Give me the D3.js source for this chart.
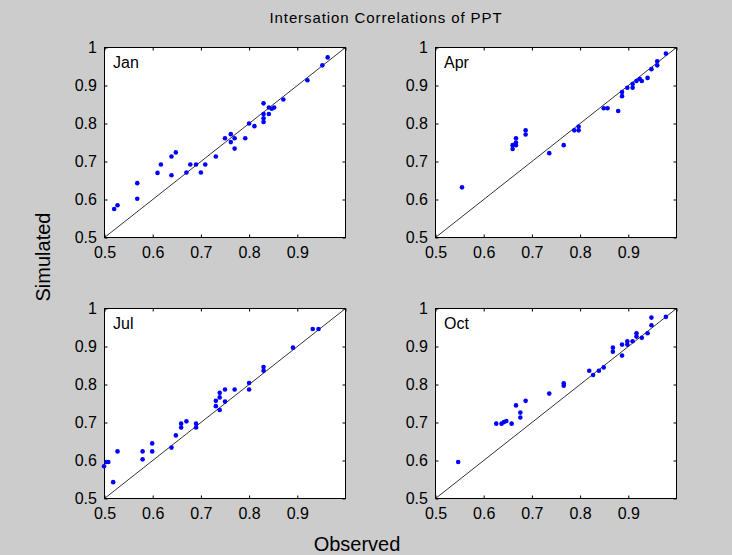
<!DOCTYPE html>
<html>
<head>
<meta charset="utf-8">
<script src="https://cdn.jsdelivr.net/npm/d3@7"></script>
<style>
  body { margin: 0; background: #cccccc; }
  svg { display: block; font-family: "Liberation Sans", Arial, sans-serif; }
</style>
</head>
<body>
<div id="chart"></div>
<script>
// panel names
var months = ["Jan", "Apr", "Jul", "Oct"];

// observed / simulated correlations
var janObs = [0.52, 0.527, 0.568, 0.568, 0.61, 0.617, 0.639, 0.639, 0.648, 0.67, 0.678, 0.69, 0.70, 0.709, 0.731,
              0.75, 0.762, 0.762, 0.77, 0.77, 0.792, 0.80, 0.811, 0.83, 0.83, 0.83, 0.83, 0.841, 0.841, 0.847,
              0.852, 0.871, 0.921, 0.952, 0.963];
var janSim = [0.575, 0.585, 0.643, 0.602, 0.67, 0.692, 0.713, 0.664, 0.724, 0.671, 0.692, 0.692, 0.671, 0.692, 0.713,
              0.761, 0.772, 0.751, 0.761, 0.734, 0.761, 0.80, 0.793, 0.853, 0.825, 0.814, 0.804, 0.842, 0.825, 0.839,
              0.842, 0.863, 0.914, 0.953, 0.974];

var aprObs = [0.555, 0.66, 0.66, 0.667, 0.667, 0.667, 0.687, 0.687, 0.736, 0.766, 0.788, 0.797, 0.797, 0.849, 0.857,
              0.879, 0.887, 0.887, 0.898, 0.909, 0.909, 0.917, 0.924, 0.928, 0.94, 0.948, 0.96, 0.96, 0.978];
var aprSim = [0.632, 0.743, 0.733, 0.761, 0.75, 0.743, 0.782, 0.771, 0.722, 0.743, 0.782, 0.792, 0.782, 0.84, 0.84,
              0.833, 0.883, 0.872, 0.894, 0.904, 0.894, 0.912, 0.917, 0.912, 0.92, 0.943, 0.964, 0.953, 0.984];

var julObs = [0.499, 0.504, 0.508, 0.518, 0.527, 0.579, 0.579, 0.599, 0.599, 0.639, 0.648, 0.659, 0.659, 0.67, 0.69,
              0.69, 0.731, 0.731, 0.739, 0.739, 0.739, 0.75, 0.75, 0.77, 0.80, 0.80, 0.83, 0.83, 0.891, 0.932, 0.944];
var julSim = [0.585, 0.596, 0.596, 0.543, 0.624, 0.624, 0.603, 0.645, 0.624, 0.634, 0.666, 0.697, 0.687, 0.703, 0.697,
              0.687, 0.757, 0.743, 0.778, 0.766, 0.733, 0.787, 0.755, 0.787, 0.804, 0.787, 0.846, 0.836, 0.897, 0.946, 0.946];

var octObs = [0.547, 0.626, 0.637, 0.642, 0.647, 0.658, 0.667, 0.676, 0.676, 0.687, 0.736, 0.766, 0.766, 0.819, 0.827,
              0.839, 0.849, 0.868, 0.868, 0.887, 0.887, 0.898, 0.898, 0.909, 0.917, 0.917, 0.928, 0.94, 0.948, 0.948, 0.978];
var octSim = [0.596, 0.697, 0.697, 0.701, 0.704, 0.697, 0.745, 0.726, 0.713, 0.757, 0.776, 0.803, 0.797, 0.836, 0.825,
              0.836, 0.845, 0.897, 0.886, 0.905, 0.876, 0.914, 0.905, 0.914, 0.935, 0.926, 0.923, 0.935, 0.976, 0.956, 0.978];

var xTicks = [0.5, 0.6, 0.7, 0.8, 0.9];
var yTicks = [0.5, 0.6, 0.7, 0.8, 0.9, 1];

var observed = [janObs, aprObs, julObs, octObs];
var simulated = [janSim, aprSim, julSim, octSim];

var W = 732, H = 555;
var pw = 241, ph = 190;
var lefts = [104.5, 435.5, 104.5, 435.5];
var tops = [47.5, 47.5, 308.5, 308.5];

var svg = d3.select("#chart").append("svg")
    .attr("width", W)
    .attr("height", H);

svg.append("rect").attr("width", W).attr("height", H).attr("fill", "#cccccc");

svg.append("text")
   .attr("x", 386).attr("y", 23)
   .attr("text-anchor", "middle")
   .style("font-size", "15px")
   .style("letter-spacing", "0.9px")
   .text("Intersation Correlations of PPT");

svg.append("text")
   .attr("transform", "translate(50,257) rotate(-90)")
   .attr("text-anchor", "middle")
   .style("font-size", "20px")
   .text("Simulated");

svg.append("text")
   .attr("x", 357).attr("y", 551)
   .attr("text-anchor", "middle")
   .style("font-size", "20px")
   .text("Observed");

months.forEach(function(m, i) {
    var g = svg.append("g").attr("transform", "translate(" + lefts[i] + "," + tops[i] + ")");
    var x = d3.scaleLinear().domain([0.5, 1]).range([0, pw]);
    var y = d3.scaleLinear().domain([0.5, 1]).range([ph, 0]);

    g.append("rect").attr("width", pw).attr("height", ph).attr("fill", "#ffffff");

    // bottom / left axes with inward ticks and labels
    var xa = g.append("g").attr("transform", "translate(0," + ph + ")")
        .call(d3.axisBottom(x).tickValues(xTicks).tickSizeInner(-3).tickSizeOuter(0).tickPadding(9.5)
                 .tickFormat(d3.format(".1f")));
    var ya = g.append("g")
        .call(d3.axisLeft(y).tickValues(yTicks).tickSizeInner(-3).tickSizeOuter(0).tickPadding(7.6)
                 .tickFormat(function(d) { return d === 1 ? "1" : d3.format(".1f")(d); }));
    // top / right ticks without labels
    var xt = g.append("g")
        .call(d3.axisTop(x).tickValues(xTicks.concat([1])).tickSizeInner(-3).tickSizeOuter(0).tickFormat(""));
    var yr = g.append("g").attr("transform", "translate(" + pw + ",0)")
        .call(d3.axisRight(y).tickValues(yTicks).tickSizeInner(-3).tickSizeOuter(0).tickFormat(""));

    [xa, ya, xt, yr].forEach(function(a) {
        a.selectAll("path").remove();
        a.selectAll("line").attr("stroke", "#000");
        a.selectAll("text").attr("fill", "#000").style("font-size", "16px").style("font-family", "'Liberation Sans', Arial, sans-serif");
    });
    xa.selectAll("text").attr("dy", "0.71em");

    g.append("rect").attr("width", pw).attr("height", ph)
     .attr("fill", "none").attr("stroke", "#000").attr("stroke-width", 1);

    g.append("line")
     .attr("x1", x(0.5)).attr("y1", y(0.5))
     .attr("x2", x(1)).attr("y2", y(1))
     .attr("stroke", "#000").attr("stroke-width", 0.8);

    var pts = observed[i].map(function(o, k) { return {o: o, s: simulated[i][k]}; });
    g.selectAll("circle.pt")
     .data(pts)
     .enter()
     .append("circle")
     .attr("class", "pt")
     .attr("cx", function(d) { return x(d.o); })
     .attr("cy", function(d) { return y(d.s); })
     .attr("r", 2.3)
     .attr("fill", "#0000ff");

    g.append("text")
     .attr("x", 8.5).attr("y", 20.5)
     .style("font-size", "16px")
     .text(m);
});
</script>
</body>
</html>
